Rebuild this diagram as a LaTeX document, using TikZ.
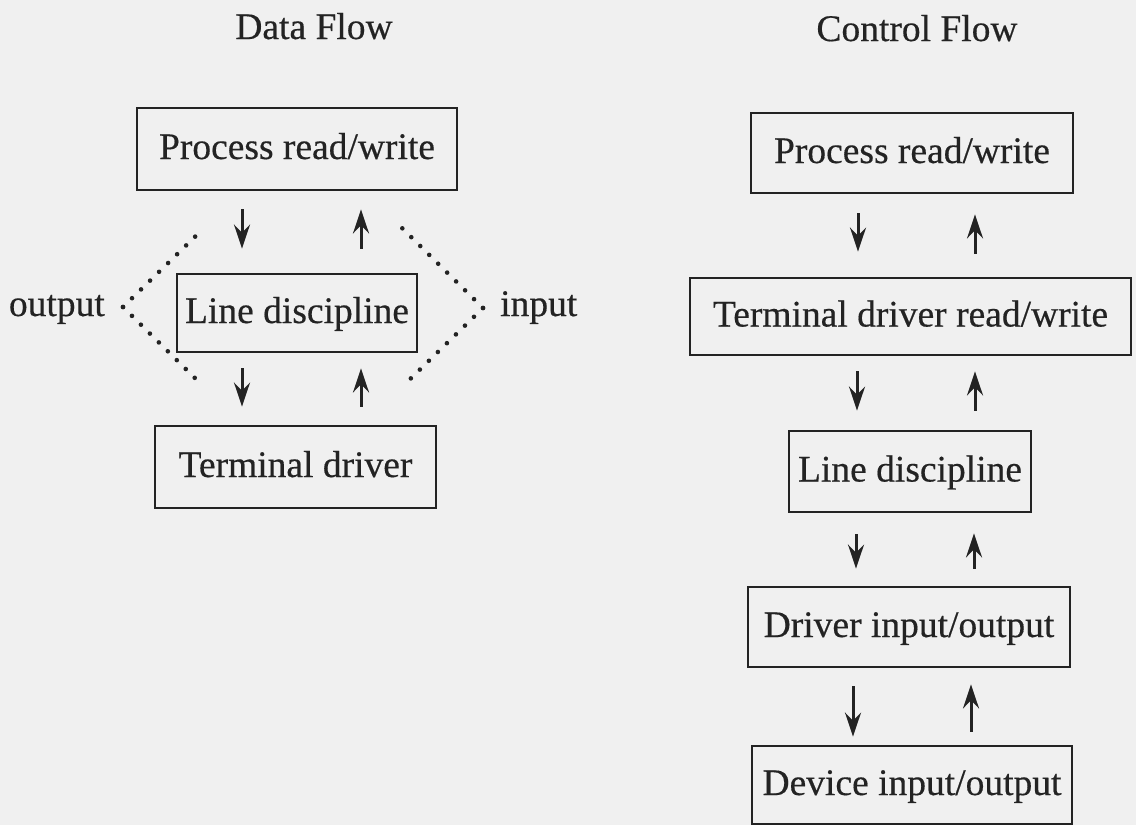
\documentclass[tikz,border=0pt]{standalone}
\usepackage{fontspec}
\setmainfont[FakeBold=0.4]{Liberation Serif}
\usetikzlibrary{arrows.meta}
\definecolor{bg}{RGB}{240,240,240}
\definecolor{ink}{RGB}{35,35,35}
\begin{document}
\begin{tikzpicture}[x=1pt,y=-1pt,
  box/.style={draw=ink, line width=2.8pt, inner sep=0pt, text=ink,
    font=\fontsize{37.5}{44}\selectfont, text height=25pt, text depth=5pt},
  lbl/.style={text=ink, inner sep=0pt, font=\fontsize{37.5}{44}\selectfont},
  arr/.style={draw=ink, line width=3pt, -{Stealth[length=24pt,width=16pt,inset=8pt]}},
  dotline/.style={draw=ink, line width=4.6pt, line cap=round, dash pattern=on 0pt off 12.6pt}]
\path[use as bounding box, fill=bg] (0,0) rectangle (1136,825);

% titles
\node[lbl, anchor=base] (tD) at (314,39) {Data Flow};
\node[lbl, anchor=base] (tC) at (917,41) {Control Flow};

% left: data flow
\node[box, minimum width=320pt, minimum height=82pt] (L1) at (297,149) {Process read/write};
\node[box, minimum width=240pt, minimum height=78pt] (L2) at (297,313) {Line discipline};
\node[box, minimum width=281pt, minimum height=82pt] (L3) at (295.5,467) {Terminal driver};

\coordinate (lx1) at (242,0);
\coordinate (lx2) at (361,0);
\draw[arr, shorten <=18pt, shorten >=24pt] (L1.south -| lx1) -- (L2.north -| lx1);
\draw[arr, shorten <=24pt, shorten >=18pt] (L2.north -| lx2) -- (L1.south -| lx2);
\draw[arr, shorten <=15pt, shorten >=18pt] (L2.south -| lx1) -- (L3.north -| lx1);
\draw[arr, shorten <=18pt, shorten >=15pt] (L3.north -| lx2) -- (L2.south -| lx2);

\node[lbl, anchor=base east] (out) at (105,316) {output};
\node[lbl, anchor=base west] (in) at (500,316) {input};

\coordinate (oA) at (204,228);
\coordinate (oP) at (123,307);
\coordinate (oB) at (203,386);
\coordinate (iA) at (402,228);
\coordinate (iP) at (483,308);
\coordinate (iB) at (402,387);
\draw[dotline] (oP) -- (oA);
\draw[dotline] (oP) -- (oB);
\draw[dotline] (iP) -- (iA);
\draw[dotline] (iP) -- (iB);

% right: control flow
\node[box, minimum width=322pt, minimum height=80pt] (R1) at (912,153) {Process read/write};
\node[box, minimum width=441pt, minimum height=77pt] (R2) at (910.5,316.5) {Terminal driver read/write};
\node[box, minimum width=242pt, minimum height=81pt] (R3) at (910,471.5) {Line discipline};
\node[box, minimum width=322pt, minimum height=80pt] (R4) at (909,627) {Driver input/output};
\node[box, minimum width=320pt, minimum height=78pt] (R5) at (912,785) {Device input/output};

\coordinate (d1) at (858,0); \coordinate (u1) at (975,0);
\coordinate (d2) at (857,0); \coordinate (u2) at (975,0);
\coordinate (d3) at (856,0); \coordinate (u3) at (974,0);
\coordinate (d4) at (853,0); \coordinate (u4) at (971,0);
\draw[arr, shorten <=19pt, shorten >=25pt] (R1.south -| d1) -- (R2.north -| d1);
\draw[arr, shorten <=23pt, shorten >=20pt] (R2.north -| u1) -- (R1.south -| u1);
\draw[arr, shorten <=15pt, shorten >=19pt] (R2.south -| d2) -- (R3.north -| d2);
\draw[arr, shorten <=19pt, shorten >=15pt] (R3.north -| u2) -- (R2.south -| u2);
\draw[arr, shorten <=21pt, shorten >=17pt] (R3.south -| d3) -- (R4.north -| d3);
\draw[arr, shorten <=17pt, shorten >=20pt] (R4.north -| u3) -- (R3.south -| u3);
\draw[arr, shorten <=18pt, shorten >=8pt] (R4.south -| d4) -- (R5.north -| d4);
\draw[arr, shorten <=13pt, shorten >=16pt] (R5.north -| u4) -- (R4.south -| u4);
\end{tikzpicture}
\end{document}
